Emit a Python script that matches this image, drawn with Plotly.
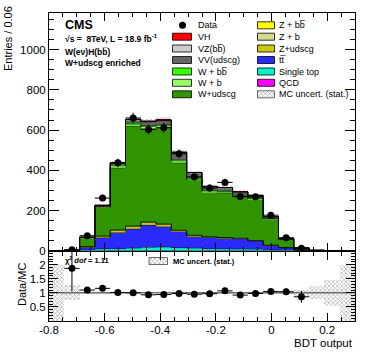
import numpy as np
import plotly.graph_objects as go

# ---- binning (20 bins of 0.055 between -0.8 and 0.3)
bin_edges = np.linspace(-0.8, 0.3, 21)
bin_width = 0.055
centers = 0.5 * (bin_edges[:-1] + bin_edges[1:])

# ---- MC backgrounds, events per bin (bottom of stack first)
qcd = [0, 0, 0, 0.5, 0.5, 0.5, 0.5, 0.5, 0.5, 0.5, 0.3, 0.3, 0.3, 0.2, 0.1, 0, 0, 0, 0, 0]
single_top = [0, 0.2, 4, 9, 10, 12, 16, 18, 15, 12, 10, 9, 8, 7, 5, 3, 1, 0.3, 0, 0]
ttbar = [0, 0.5, 14, 55, 80, 95, 110, 101, 82, 60, 56, 53, 51, 42, 21, 12, 3, 0.7, 0.2, 0]
z_udscg = [0, 0.1, 1, 7, 11, 13, 14, 11, 3, 3, 2, 2, 2, 1, 1, 0.5, 0.2, 0, 0, 0]
z_b = [0, 0, 0.3, 1, 1, 1.5, 1.5, 1.5, 1, 1, 0.7, 0.7, 0.5, 0.5, 0.3, 0.2, 0, 0, 0, 0]
z_bb = [0, 0, 0.2, 0.5, 1, 1.5, 1.5, 1.5, 1, 1, 0.7, 0.7, 0.5, 0.5, 0.3, 0.2, 0, 0, 0, 0]
w_udscg = [0.2, 1.6, 43, 142, 308, 496, 464, 478, 334, 272, 222, 222, 205, 206, 129, 40, 8, 1, 0.3, 0.2]
w_b = [0, 0.2, 2, 4, 10, 10, 10, 10, 10, 7, 6, 6, 6, 4, 3, 1.5, 0.5, 0.2, 0, 0]
w_bb = [0, 0.1, 1, 2, 5, 5, 5, 5, 5, 4, 3, 3, 3, 2, 2, 1, 0.3, 0.1, 0, 0]
vv_udscg = [0, 0.2, 2, 4, 8, 15, 18, 20, 35, 25, 17, 15, 14, 10, 6, 2, 1, 0.3, 0.1, 0]
vz_bb = [0, 0.1, 0.5, 1, 2, 3, 3, 3, 3, 3, 2, 2, 2, 2, 1, 0.5, 0.2, 0, 0, 0]
vh = [0, 0, 0.1, 0.3, 0.5, 0.8, 0.8, 0.8, 0.8, 0.8, 0.5, 0.5, 0.5, 0.5, 0.3, 0.2, 0.1, 0, 0, 0]

# relative MC stat. uncertainty per bin
mc_rel_err = [1.0, 0.27, 0.04, 0.025, 0.02, 0.02, 0.02, 0.02, 0.02, 0.025,
              0.025, 0.025, 0.025, 0.025, 0.03, 0.045, 0.1, 0.23, 0.45, 1.0]

# ---- data
data = [None, 5, 75, 262, 437, 660, 603, 612, 482, 368, 312, 340, 270, 268, 177, 65, 12, None, None, None]
ratio = [None, 1.87, 1.10, 1.16, 1.01, 1.0, 0.93, 0.94, 0.98, 0.95, 0.97, 1.07, 0.92, 0.98, 1.05, 1.04, 0.86, None, None, None]
ratio_err = [0, 0.82, 0.10, 0.06, 0.05, 0.04, 0.04, 0.04, 0.04, 0.05, 0.05, 0.05, 0.05, 0.05, 0.07, 0.12, 0.21, 0, 0, 0]

x_tickvals = [-0.8, -0.6, -0.4, -0.2, 0, 0.2]
x_ticktext = ["-0.8", "-0.6", "-0.4", "-0.2", "0", "0.2"]
y_tickvals = [0, 200, 400, 600, 800, 1000]
r_tickvals = [0.5, 1, 1.5, 2]
r_ticktext = ["0.5", "1", "1.5", "2"]

C_VH, C_VZ, C_VV = "#ff0000", "#cccccc", "#666666"
C_WBB, C_WB, C_WUDSCG = "#33ff00", "#99ff66", "#2f9400"
C_ZBB, C_ZB, C_ZUDSCG = "#ffff00", "#d9d98c", "#c8c800"
C_TT, C_ST, C_QCD = "#2b2bff", "#00f0c8", "#ff00ff"
HATCH = dict(shape="x", fgcolor="#555555", size=3, solidity=0.4)

samples = [
    (qcd, C_QCD), (single_top, C_ST), (ttbar, C_TT),
    (z_udscg, C_ZUDSCG), (z_b, C_ZB), (z_bb, C_ZBB),
    (w_udscg, C_WUDSCG), (w_b, C_WB), (w_bb, C_WBB),
    (vv_udscg, C_VV), (vz_bb, C_VZ), (vh, C_VH),
]

FONT = "Liberation Sans"
fig = go.Figure()

step_x = np.append(bin_edges[:-1], bin_edges[-1])
base = np.zeros(20)
for vals, col in samples:
    vals = np.array(vals, dtype=float)
    fig.add_trace(go.Bar(x=centers, y=vals, base=base, width=bin_width,
                         marker=dict(color=col, line=dict(width=0)),
                         xaxis="x", yaxis="y", showlegend=False))
    base = base + vals
    fig.add_trace(go.Scatter(x=step_x, y=np.append(base, base[-1]), mode="lines",
                             line=dict(color="rgba(0,0,0,0.75)", width=0.6, shape="hv"),
                             xaxis="x", yaxis="y", showlegend=False, hoverinfo="skip"))

total = base
err = np.array(mc_rel_err) * total
fig.add_trace(go.Bar(x=centers, y=2 * err, base=total - err, width=bin_width,
                     marker=dict(color="rgba(0,0,0,0)", line=dict(width=0), pattern=HATCH),
                     xaxis="x", yaxis="y", showlegend=False))
fig.add_trace(go.Scatter(x=step_x, y=np.append(total, total[-1]), mode="lines",
                         line=dict(color="black", width=1, shape="hv"),
                         xaxis="x", yaxis="y", showlegend=False, hoverinfo="skip"))

data_arr = np.array([np.nan if d is None else d for d in data])
fig.add_trace(go.Scatter(x=centers, y=data_arr, mode="markers",
                         marker=dict(color="black", size=7),
                         error_x=dict(type="constant", value=bin_width / 2, width=0, thickness=1, color="black"),
                         error_y=dict(type="data", array=np.sqrt(np.nan_to_num(data_arr)), width=0, thickness=1, color="black"),
                         xaxis="x", yaxis="y", showlegend=False))

# ---- ratio panel
rel = np.array(mc_rel_err)
fig.add_trace(go.Bar(x=centers, y=2 * rel, base=1 - rel, width=bin_width,
                     marker=dict(color="rgba(0,0,0,0)", line=dict(width=0), pattern=HATCH),
                     xaxis="x2", yaxis="y2", showlegend=False))
ratio_arr = np.array([np.nan if r is None else r for r in ratio])
fig.add_trace(go.Scatter(x=centers, y=ratio_arr, mode="markers",
                         marker=dict(color="black", size=7),
                         error_x=dict(type="constant", value=bin_width / 2, width=0, thickness=1, color="black"),
                         error_y=dict(type="data", array=ratio_err, width=0, thickness=1, color="black"),
                         xaxis="x2", yaxis="y2", showlegend=False))

# ---- page geometry (plot area in page pixels)
W, H = 374, 359
L, R, T, B = 49, 355, 13, 321
shapes, annots = [], []


def px(x):
    return (x - L) / (R - L)


def py(y):
    return (B - y) / (B - T)


def text(x, y, s, size=9, bold=False, anchor="left", angle=0):
    annots.append(dict(xref="paper", yref="paper", x=px(x), y=py(y), text=f"<b>{s}</b>" if bold else s,
                       showarrow=False, xanchor=anchor, yanchor="middle", textangle=angle,
                       font=dict(family=FONT, size=size, color="black")))


def hatch_box(x0, x1, y0, y1):
    fig.add_trace(go.Scatter(x=[x0, x1, x1, x0, x0], y=[y0, y0, y1, y1, y0], mode="lines",
                             fill="toself", fillcolor="rgba(0,0,0,0)", fillpattern=HATCH,
                             line=dict(color="#444444", width=0.8),
                             xaxis="x3", yaxis="y3", showlegend=False, hoverinfo="skip"))


left_rows = [("VH", C_VH), ("VZ(bb\u0305)", C_VZ), ("VV(udscg)", C_VV),
             ("W + bb\u0305", C_WBB), ("W + b", C_WB), ("W+udscg", C_WUDSCG)]
right_rows = [("Z + bb\u0305", C_ZBB), ("Z + b", C_ZB), ("Z+udscg", C_ZUDSCG),
              ("tt\u0305", C_TT), ("Single top", C_ST), ("QCD", C_QCD)]
row_y = [25.3, 36.7, 48.5, 60, 71.5, 82.8, 94.3]

shapes.append(dict(type="circle", xref="x3", yref="y3", x0=179, x1=186, y0=row_y[0] - 3.5,
                   y1=row_y[0] + 3.5, fillcolor="black", line=dict(width=0)))
text(195.5, row_y[0], "Data")
for (name, col), yy in zip(left_rows, row_y[1:]):
    shapes.append(dict(type="rect", xref="x3", yref="y3", x0=172.5, x1=191.5, y0=yy - 3.5, y1=yy + 3.5,
                       fillcolor=col, line=dict(color="black", width=0.8)))
    text(195.5, yy, name)
for (name, col), yy in zip(right_rows, row_y[:-1]):
    shapes.append(dict(type="rect", xref="x3", yref="y3", x0=257.5, x1=274.5, y0=yy - 3.5, y1=yy + 3.5,
                       fillcolor=col, line=dict(color="black", width=0.8)))
    text(277, yy, name)
hatch_box(257.5, 274.5, row_y[6] - 3.5, row_y[6] + 3.5)
text(277, row_y[6], "MC uncert. (stat.)")

text(63, 25, "CMS", size=12.5, bold=True)
text(63, 39, "\u221as =  8TeV, L = 18.9 fb<sup>-1</sup>", size=8.5, bold=True)
text(63, 51.5, "W(e\u03bd)H(bb\u0305)", size=8.5, bold=True)
text(63, 63.3, "W+udscg enriched", size=8.5, bold=True)

text(63, 260, "\u03c7<sup>2</sup> <i>dof</i> = 1.11", size=7.5, bold=True)
hatch_box(149, 167.5, 257.5, 264.5)
text(170.5, 261, "MC uncert. (stat.)", size=7.5, bold=True)

text(8, 39, "Entries / 0.06", size=11, anchor="center", angle=-90)
text(22, 285, "Data/MC", size=11, anchor="center", angle=-90)
text(355, 343, "BDT output", size=11.5, anchor="right")

shapes.append(dict(type="line", xref="x2", yref="y2", x0=-0.8, x1=0.3, y0=1, y1=1,
                   line=dict(color="black", width=0.8)))

tickfont = dict(family=FONT, size=11.5, color="black")
axis_common = dict(showline=True, linecolor="black", linewidth=1, mirror="allticks", ticks="inside",
                   tickcolor="black", tickwidth=1, showgrid=False, zeroline=False, tickfont=tickfont,
                   automargin=False)
x_minor = dict(ticks="inside", ticklen=4, tickcolor="black", tickmode="array",
               tickvals=list(np.round(np.arange(-0.8, 0.301, 0.05), 3)))

fig.update_layout(
    width=W, height=H,
    margin=dict(l=L, r=W - R, t=T, b=H - B, autoexpand=False),
    paper_bgcolor="white", plot_bgcolor="rgba(0,0,0,0)",
    barmode="overlay", bargap=0,
    showlegend=False,
    xaxis=dict(axis_common, domain=[0, 1], anchor="y", range=[-0.8, 0.3], tickmode="array",
               tickvals=x_tickvals, showticklabels=False, ticklen=8, minor=x_minor),
    yaxis=dict(axis_common, domain=[0.228, 1], anchor="x", range=[0, 1182], tickmode="array",
               tickvals=y_tickvals, ticktext=[str(v) for v in y_tickvals], ticklen=10,
               minor=dict(ticks="inside", ticklen=5, tickcolor="black", tickmode="array",
                          tickvals=list(range(0, 1200, 50)))),
    xaxis2=dict(axis_common, domain=[0, 1], anchor="y2", range=[-0.8, 0.3], tickmode="array",
                tickvals=x_tickvals, ticktext=x_ticktext, ticklen=8, minor=x_minor,
                ticklabelstandoff=-2),
    yaxis2=dict(axis_common, domain=[0, 0.224], anchor="x2", range=[0, 2.45], tickmode="array",
                tickvals=r_tickvals, ticktext=r_ticktext, ticklen=9,
                minor=dict(ticks="inside", ticklen=4, tickcolor="black", tickmode="array",
                           tickvals=list(np.round(np.arange(0.1, 2.45, 0.1), 2)))),
    xaxis3=dict(domain=[0, 1], anchor="y3", range=[L, R], visible=False, fixedrange=True, automargin=False),
    yaxis3=dict(domain=[0, 1], anchor="x3", range=[B, T], visible=False, fixedrange=True, automargin=False),
    shapes=shapes,
    annotations=annots,
)

# the page body's default 8px margin would shift the figure; drop it
fig.write_html("out.html", config={"displayModeBar": False},
               post_script="document.body.style.margin='0';")
